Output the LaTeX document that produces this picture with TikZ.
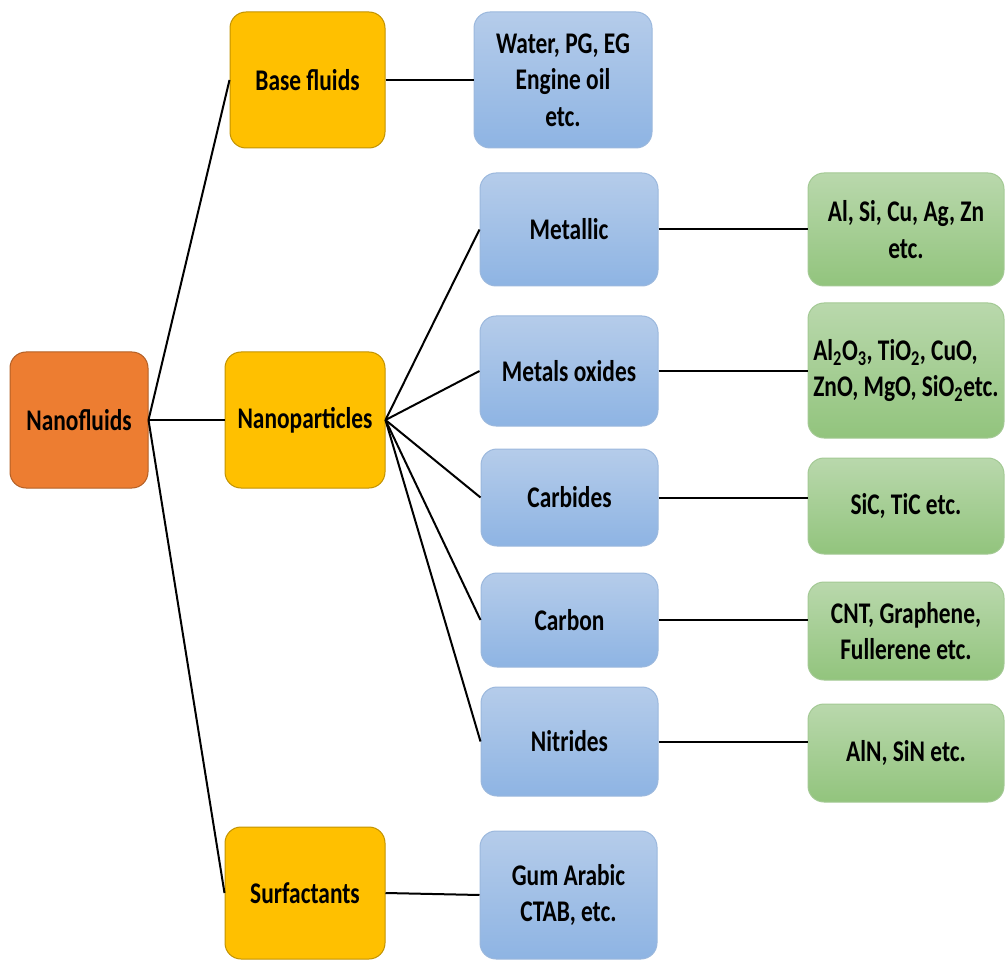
\documentclass[tikz,border=0pt]{standalone}
\usepackage{fontspec}
\setmainfont{Carlito}[FakeStretch=0.78]
\definecolor{orangeF}{HTML}{ED7D31}
\definecolor{orangeD}{HTML}{B35F25}
\definecolor{goldF}{HTML}{FFC000}
\definecolor{goldD}{HTML}{C29200}
\definecolor{blueT}{HTML}{B5CCEA}
\definecolor{blueB}{HTML}{8EB4E3}
\definecolor{blueD}{HTML}{9BB8DD}
\definecolor{greenT}{HTML}{B9D8AC}
\definecolor{greenB}{HTML}{92C47D}
\definecolor{greenD}{HTML}{A3C994}
\tikzset{
  box/.style={rounded corners=16pt, line width=1pt, inner sep=0pt, align=center,
    font=\fontsize{30}{36.6}\selectfont\bfseries},
  orangebox/.style={box, fill=orangeF, draw=orangeD},
  goldbox/.style={box, fill=goldF, draw=goldD},
  bluebox/.style={box, top color=blueT, bottom color=blueB, draw=blueD},
  greenbox/.style={box, top color=greenT, bottom color=greenB, draw=greenD},
  link/.style={line width=2pt, black}
}
\begin{document}
\begin{tikzpicture}[x=1pt,y=-1pt]
\useasboundingbox (0,0) rectangle (1005,960);
% level 0
\node[orangebox, minimum width=138pt, minimum height=136pt] (nf) at (79,420) {Nanofluids};
% level 1
\node[goldbox, minimum width=155pt, minimum height=136pt] (bf) at (307.5,80) {Base fluids};
\node[goldbox, minimum width=160pt, minimum height=136pt] (np) at (305,420) {Nanoparticles};
\node[goldbox, minimum width=160pt, minimum height=132pt] (sf) at (305,893) {Surfactants};
% level 2
\node[bluebox, minimum width=178pt, minimum height=136pt] (water) at (563,80) {Water, PG, EG\\Engine oil\\etc.};
\node[bluebox, minimum width=178pt, minimum height=113pt] (met) at (569,229.5) {Metallic};
\node[bluebox, minimum width=178pt, minimum height=110pt] (oxi) at (569,371) {Metals oxides};
\node[bluebox, minimum width=177pt, minimum height=97pt] (carb) at (569.5,497.5) {Carbides};
\node[bluebox, minimum width=177pt, minimum height=94pt] (cbn) at (569.5,620) {Carbon};
\node[bluebox, minimum width=177pt, minimum height=109pt] (nit) at (569.5,741.5) {Nitrides};
\node[bluebox, minimum width=177pt, minimum height=128pt] (gum) at (568.5,895) {Gum Arabic\\CTAB, etc.};
% level 3
\node[greenbox, minimum width=196pt, minimum height=113pt] (g1) at (906,229.5) {Al, Si, Cu, Ag, Zn\\etc.};
\node[greenbox, minimum width=196pt, minimum height=135pt, align=left] (g2) at (906,370.5)
  {Al\textsubscript{2}O\textsubscript{3}, TiO\textsubscript{2}, CuO,\\ZnO, MgO, SiO\textsubscript{2}etc.};
\node[greenbox, minimum width=196pt, minimum height=96pt] (g3) at (906,506) {SiC, TiC etc.};
\node[greenbox, minimum width=196pt, minimum height=98pt] (g4) at (906,631) {CNT, Graphene,\\Fullerene etc.};
\node[greenbox, minimum width=196pt, minimum height=98pt] (g5) at (906,753) {AlN, SiN etc.};
% connectors
\draw[link] (nf.east) -- (bf.west);
\draw[link] (nf.east) -- (np.west);
\draw[link] (nf.east) -- (sf.west);
\draw[link] (bf.east) -- (water.west);
\draw[link] (np.east) -- (met.west);
\draw[link] (np.east) -- (oxi.west);
\draw[link] (np.east) -- (carb.west);
\draw[link] (np.east) -- (cbn.west);
\draw[link] (np.east) -- (nit.west);
\draw[link] (sf.east) -- (gum.west);
\draw[link] (met.east) -- (met.east -| g1.west);
\draw[link] (oxi.east) -- (oxi.east -| g2.west);
\draw[link] (carb.east) -- (carb.east -| g3.west);
\draw[link] (cbn.east) -- (cbn.east -| g4.west);
\draw[link] (nit.east) -- (nit.east -| g5.west);
\end{tikzpicture}
\end{document}
